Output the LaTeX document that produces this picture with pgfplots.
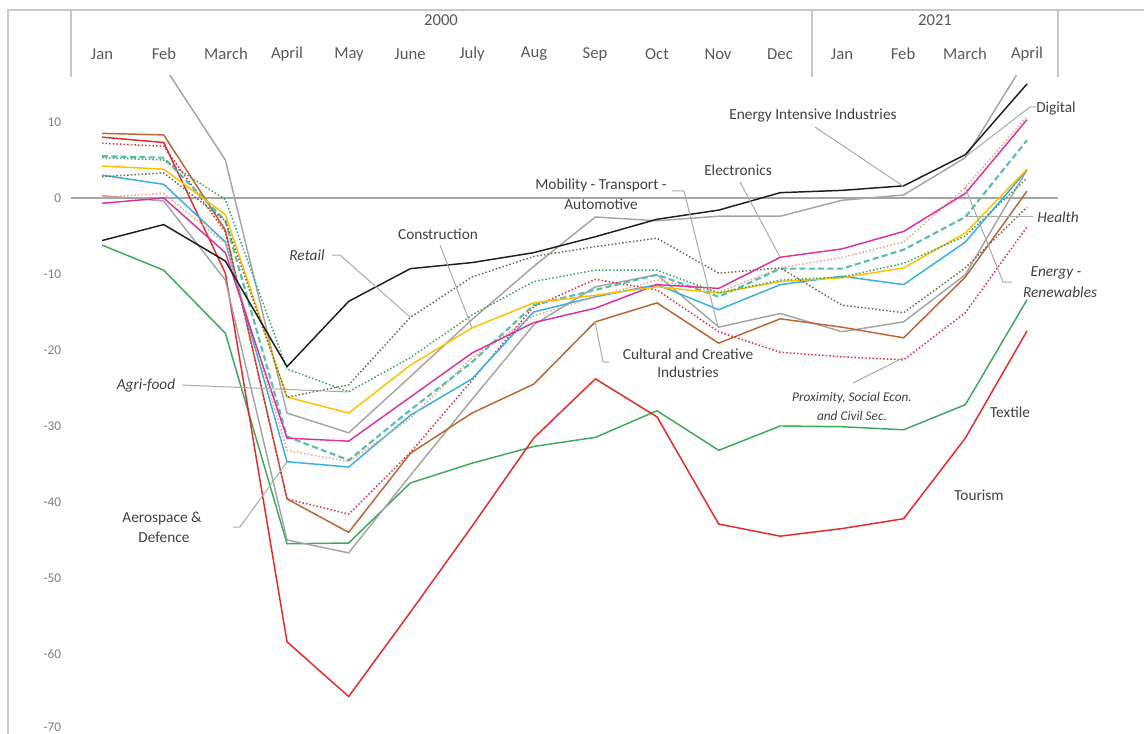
\documentclass[border=0pt]{standalone}
\usepackage{pgfplots}
\pgfplotsset{compat=1.18}
\usepackage{fontspec}
\setmainfont{Carlito}
\definecolor{cblack}{RGB}{30,30,30}
\definecolor{cgray}{RGB}{165,165,165}
\definecolor{cblue}{RGB}{55,175,230}
\definecolor{cgreendot}{RGB}{50,165,95}
\definecolor{colive}{RGB}{105,105,75}
\definecolor{cyellow}{RGB}{255,192,0}
\definecolor{cbrown}{RGB}{190,100,50}
\definecolor{cmagenta}{RGB}{220,50,160}
\definecolor{cteal}{RGB}{90,190,175}
\definecolor{corange}{RGB}{245,160,120}
\definecolor{creddot}{RGB}{230,40,60}
\definecolor{cgreen}{RGB}{60,170,90}
\definecolor{cred}{RGB}{230,40,40}
\definecolor{tickgray}{RGB}{128,128,128}
\definecolor{labgray}{RGB}{64,64,64}
\definecolor{hdrgray}{RGB}{89,89,89}
\definecolor{framegray}{RGB}{200,200,200}
\definecolor{zerogray}{RGB}{165,165,165}
\definecolor{leadgray}{RGB}{170,170,170}
\begin{document}
\begin{tikzpicture}
\useasboundingbox (0,0) rectangle (858pt,-550.5pt);
\begin{axis}[
 at={(53.4pt,-550.5pt)}, anchor=south west,
 scale only axis, width=739.95pt, height=493.5pt,
 xmin=-0.5, xmax=15.5, ymin=-70.53, ymax=16.05,
 axis line style={draw=none}, xtick=\empty,
 ytick={-70,-60,-50,-40,-30,-20,-10,0,10}, major tick length=0pt,
 yticklabel style={font=\fontsize{10}{12}\selectfont, text=tickgray, anchor=east, xshift=-4pt},
 yticklabel={\ifdim\tick pt<-69pt\raisebox{3.5pt}{\pgfmathprintnumber{\tick}}\else\pgfmathprintnumber{\tick}\fi},
 /pgf/number format/assume math mode=true,
 every axis plot/.append style={line width=1.1pt, mark=none, line join=round},
]
\draw[zerogray, line width=0.8pt] (axis cs:-0.5,0) -- (axis cs:15.5,0);
% Textile
\addplot[cgreen] coordinates {(0,-6.2)(1,-9.5)(2,-17.8)(3,-45.5)(4,-45.4)(5,-37.5)(6,-34.9)(7,-32.7)(8,-31.5)(9,-28.0)(10,-33.2)(11,-30.0)(12,-30.1)(13,-30.5)(14,-27.2)(15,-13.4)};
% Tourism
\addplot[cred] coordinates {(0,8.0)(1,7.3)(2,-9.9)(3,-58.4)(4,-65.6)(5,-54.5)(6,-43.2)(7,-31.6)(8,-23.8)(9,-28.8)(10,-42.9)(11,-44.5)(12,-43.5)(13,-42.2)(14,-31.6)(15,-17.5)};
% Mobility
\addplot[cgray] coordinates {(0,0.3)(1,-0.4)(2,-10.8)(3,-45.0)(4,-46.7)(5,-36.5)(6,-26.5)(7,-16.7)(8,-11.7)(9,-10.1)(10,-17.0)(11,-15.2)(12,-17.6)(13,-16.3)(14,-10.1)(15,3.7)};
% Digital
\addplot[cgray] coordinates {(0,20)(1,17.4)(2,5.0)(3,-28.3)(4,-30.9)(5,-23.5)(6,-16.0)(7,-9.0)(8,-2.5)(9,-3.0)(10,-2.4)(11,-2.4)(12,-0.3)(13,0.4)(14,5.3)(15,18.4)};
% Cultural
\addplot[cbrown] coordinates {(0,8.5)(1,8.3)(2,-4.2)(3,-39.6)(4,-44.0)(5,-33.6)(6,-28.3)(7,-24.5)(8,-16.3)(9,-13.8)(10,-19.1)(11,-15.9)(12,-17.0)(13,-18.4)(14,-10.4)(15,0.9)};
% Proximity
\addplot[creddot, dash pattern=on 1.1pt off 1.6pt] coordinates {(0,7.2)(1,6.8)(2,-4.5)(3,-39.6)(4,-41.6)(5,-33.5)(6,-24.0)(7,-14.3)(8,-10.7)(9,-12.1)(10,-17.6)(11,-20.3)(12,-20.9)(13,-21.3)(14,-15.1)(15,-3.8)};
% Aerospace
\addplot[cblue] coordinates {(0,3.0)(1,1.8)(2,-5.8)(3,-34.7)(4,-35.4)(5,-28.6)(6,-23.8)(7,-15.0)(8,-13.0)(9,-11.4)(10,-14.7)(11,-11.4)(12,-10.3)(13,-11.4)(14,-5.8)(15,3.7)};
% Energy renewables
\addplot[corange, dash pattern=on 1.1pt off 1.6pt] coordinates {(0,0.1)(1,0.6)(2,-6.0)(3,-33.2)(4,-34.7)(5,-29.0)(6,-21.0)(7,-15.5)(8,-13.0)(9,-10.8)(10,-12.4)(11,-9.2)(12,-7.8)(13,-5.8)(14,1.4)(15,10.7)};
% Health
\addplot[cteal, line width=1.6pt, dash pattern=on 4.5pt off 2.5pt] coordinates {(0,5.5)(1,5.3)(2,-3.0)(3,-31.4)(4,-34.5)(5,-27.9)(6,-21.6)(7,-14.1)(8,-12.1)(9,-10.1)(10,-13.0)(11,-9.3)(12,-9.3)(13,-6.8)(14,-2.5)(15,7.6)};
% Electronics
\addplot[cmagenta] coordinates {(0,-0.7)(1,0.0)(2,-7.2)(3,-31.6)(4,-32.0)(5,-26.2)(6,-20.4)(7,-16.4)(8,-14.5)(9,-11.4)(10,-11.9)(11,-7.8)(12,-6.7)(13,-4.4)(14,0.6)(15,10.3)};
% Construction
\addplot[cyellow] coordinates {(0,4.2)(1,3.8)(2,-2.2)(3,-26.2)(4,-28.3)(5,-22.0)(6,-17.1)(7,-13.8)(8,-12.8)(9,-11.7)(10,-12.5)(11,-11.0)(12,-10.5)(13,-9.2)(14,-4.6)(15,3.8)};
% Retail
\addplot[colive, dash pattern=on 1.1pt off 1.6pt] coordinates {(0,2.8)(1,3.3)(2,-3.0)(3,-26.2)(4,-24.6)(5,-15.7)(6,-10.4)(7,-7.7)(8,-6.4)(9,-5.3)(10,-9.9)(11,-9.2)(12,-14.1)(13,-15.1)(14,-9.2)(15,-1.2)};
% Agri-food
\addplot[cgreendot, dash pattern=on 1.1pt off 1.6pt] coordinates {(0,5.3)(1,5.0)(2,-0.2)(3,-22.5)(4,-25.5)(5,-21.0)(6,-15.4)(7,-11.0)(8,-9.5)(9,-9.5)(10,-12.5)(11,-10.8)(12,-10.4)(13,-8.6)(14,-5.0)(15,2.6)};
% Energy intensive
\addplot[cblack] coordinates {(0,-5.6)(1,-3.5)(2,-8.3)(3,-22.2)(4,-13.6)(5,-9.3)(6,-8.5)(7,-7.2)(8,-5.1)(9,-2.8)(10,-1.6)(11,0.7)(12,1.0)(13,1.6)(14,5.7)(15,15.0)};
\end{axis}
\begin{scope}[x=0.75pt,y=-0.75pt]
% frame and header
\draw[framegray, line width=0.8pt] (8,734) -- (8,10) -- (1144,10);
\draw[framegray, line width=0.8pt] (71,10) -- (71,77) (812,10) -- (812,77) (1058,10) -- (1058,77);
\begin{scope}[every node/.style={text=hdrgray, font=\fontsize{12.5}{15}\selectfont}]
\node at (441,20) {2000};
\node at (935,20) {2021};
\node at (102,54) {Jan};
\node at (164,54) {Feb};
\node at (226,54) {March};
\node at (287,54) {April};
\node at (349,54) {May};
\node at (410,54) {June};
\node at (472,54) {July};
\node at (534,54) {Aug};
\node at (595,54) {Sep};
\node at (657,54) {Oct};
\node at (718,54) {Nov};
\node at (780,54) {Dec};
\node at (842,54) {Jan};
\node at (903,54) {Feb};
\node at (965,54) {March};
\node at (1027,54) {April};
\end{scope}
% leaders
\begin{scope}[leadgray, line width=0.75pt]
\draw (815,127) -- (903,186);
\draw (1036,107) -- (1030,107) -- (965,157);
\draw (740,182) -- (780,257);
\draw (672,191) -- (684,191) -- (718,327);
\draw (440,245) -- (472,328);
\draw (332,255) -- (340,255) -- (410,317);
\draw (182,385) -- (349,392);
\draw (609,362) -- (603,362) -- (595,321);
\draw (1033,217) -- (965,217);
\draw (1012,282) -- (1003,282) -- (965,187);
\draw (853,383) -- (903,358);
\draw (233,527) -- (240,527) -- (287,462);
\end{scope}
% labels
\begin{scope}[every node/.style={text=labgray, font=\fontsize{11.5}{14}\selectfont, inner sep=0pt}]
\node at (813,115) {Energy Intensive Industries};
\node at (1056,108) {Digital};
\node at (738,170) {Electronics};
\node at (601,185) {Mobility - Transport -};
\node at (601,204) {Automotive};
\node at (438,234) {Construction};
\node at (307,255) {\itshape Retail};
\node at (146,385) {\itshape Agri-food};
\node at (688,354) {Cultural and Creative};
\node at (688,372) {Industries};
\node at (1058,217) {\itshape Health};
\node at (1056,273) {\itshape Energy -};
\node at (1060,292) {\itshape Renewables};
\node[font=\fontsize{10}{12}\selectfont] at (852,398) {\itshape Proximity, Social Econ.};
\node[font=\fontsize{10}{12}\selectfont] at (852,416) {\itshape and Civil Sec.};
\node at (1010,412) {Textile};
\node at (979,495) {Tourism};
\node at (162,518) {Aerospace \&};
\node at (164,537) {Defence};
\end{scope}
\end{scope}
\end{tikzpicture}
\end{document}
